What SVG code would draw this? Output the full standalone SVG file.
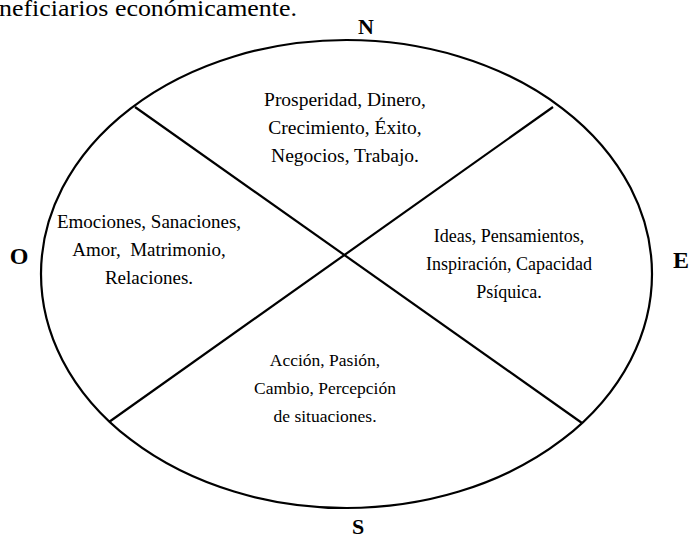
<svg xmlns="http://www.w3.org/2000/svg" width="691" height="539" viewBox="0 0 691 539">
<style>
.t{font-family:"Liberation Serif","Times New Roman",serif;fill:#000;text-anchor:middle}
.d{font-family:"Liberation Serif","Times New Roman",serif;font-weight:bold;fill:#000;text-anchor:middle}
.s{fill:none;stroke:#000;stroke-width:2.2}
</style>
<rect width="691" height="539" fill="#fff"/>
<text x="-1" y="16" font-family="'Liberation Serif','Times New Roman',serif" font-size="23" textLength="298" lengthAdjust="spacingAndGlyphs">neficiarios económicamente.</text>
<g id="ellipse"><ellipse class="s" cx="346.5" cy="274" rx="305.5" ry="234"/></g>
<g id="connectors">
<line class="s" x1="135" y1="107" x2="582" y2="423"/>
<line class="s" x1="553" y1="107" x2="109" y2="422"/>
</g>
<g id="north-label"><text class="d" x="366" y="34" font-size="22">N</text></g>
<g id="west-label"><text class="d" x="19" y="264" font-size="24">O</text></g>
<g id="east-label"><text class="d" x="681" y="268" font-size="24">E</text></g>
<g id="south-label"><text class="d" x="358" y="534" font-size="22">S</text></g>
<g id="north" font-size="19.5"><text class="t" x="345" y="106">Prosperidad, Dinero,</text><text class="t" x="345" y="134">Crecimiento, Éxito,</text><text class="t" x="345" y="162">Negocios, Trabajo.</text></g>
<g id="west" font-size="19"><text class="t" x="149" y="228">Emociones, Sanaciones,</text><text class="t" x="149" y="256" xml:space="preserve">Amor,  Matrimonio,</text><text class="t" x="149" y="284">Relaciones.</text></g>
<g id="east" font-size="18"><text class="t" x="509" y="242">Ideas, Pensamientos,</text><text class="t" x="509" y="270">Inspiración, Capacidad</text><text class="t" x="509" y="298">Psíquica.</text></g>
<g id="south" font-size="17.5"><text class="t" x="325" y="366">Acción, Pasión,</text><text class="t" x="325" y="394">Cambio, Percepción</text><text class="t" x="325" y="422">de situaciones.</text></g>
</svg>
